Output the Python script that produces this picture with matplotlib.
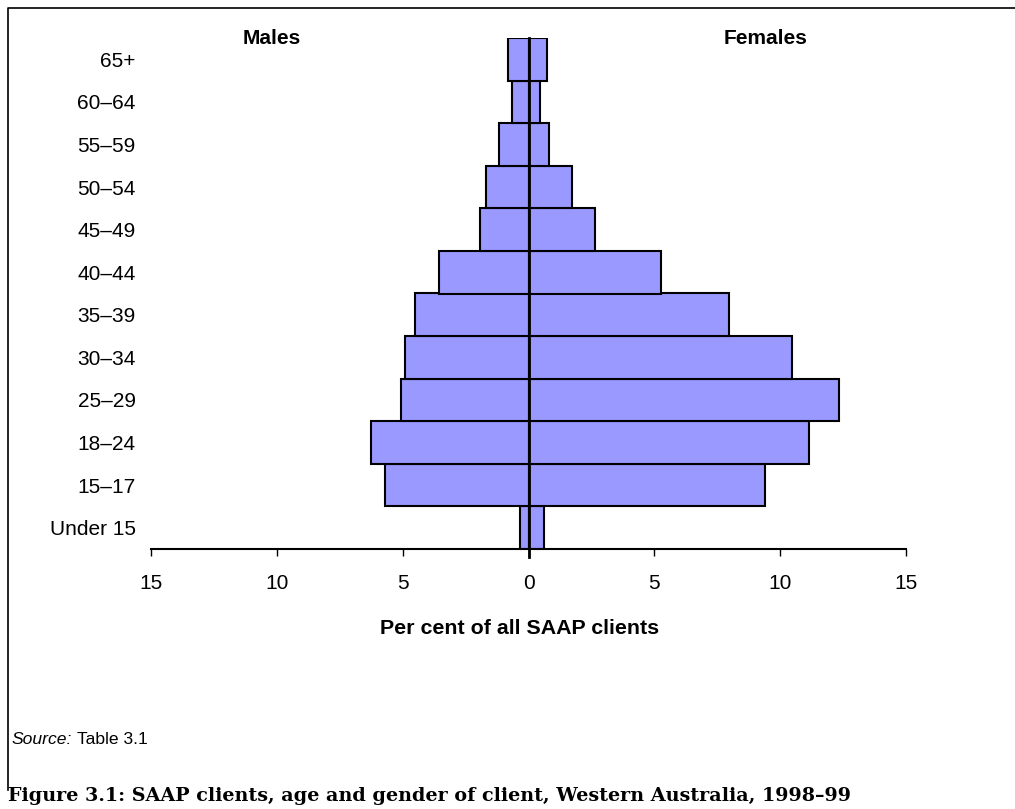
import matplotlib
matplotlib.use("Agg")
import matplotlib.pyplot as plt
from matplotlib.lines import Line2D
import numpy as np

plt.rcParams['font.family'] = ['Liberation Sans', 'DejaVu Sans']

# age groups, bottom to top
ages = ['Under 15', '15–17', '18–24', '25–29', '30–34', '35–39',
        '40–44', '45–49', '50–54', '55–59', '60–64', '65+']
males = [0.32, 5.71, 6.27, 5.08, 4.92, 4.52, 3.57, 1.94, 1.67, 1.19, 0.67, 0.83]
females = [0.63, 9.40, 11.15, 12.34, 10.48, 7.98, 5.28, 2.66, 1.71, 0.83, 0.44, 0.75]
xticks = [-15, -10, -5, 0, 5, 10, 15]
xticklabels = ['15', '10', '5', '0', '5', '10', '15']

W, H = 1015, 809
fig = plt.figure(figsize=(W / 100, H / 100), dpi=100)
ax = fig.add_axes([151 / W, 1 - 549 / H, (906 - 151) / W, (549 - 38) / H])

y = np.arange(len(ages))
bar_kw = dict(height=1.0, color='#9999ff', edgecolor='black', linewidth=1.5)
ax.barh(y, -np.array(males), **bar_kw)
ax.barh(y, females, **bar_kw)

# centre line between the two halves
ax.plot([0, 0], [-0.68, len(ages) - 0.5], color='black', lw=2, clip_on=False, zorder=5)

ax.set_xlim(-15, 15)
ax.set_ylim(-0.5, len(ages) - 0.5)
ax.set_yticks(y)
ax.set_yticklabels(ages, fontsize=15)
ax.tick_params(axis='y', length=0, pad=11)
ax.set_xticks(xticks)
ax.set_xticklabels(xticklabels, fontsize=15)
ax.tick_params(axis='x', direction='out', length=5, width=1, pad=13)
for s in ['top', 'right', 'left']:
    ax.spines[s].set_visible(False)
ax.spines['bottom'].set_linewidth(1.5)

fig.text(520 / W, 1 - 628 / H, 'Per cent of all SAAP clients', ha='center', va='center',
         fontsize=15.4, fontweight='bold')
fig.text(272 / W, 1 - 38 / H, 'Males', ha='center', va='center', fontsize=15, fontweight='bold')
fig.text(766 / W, 1 - 38 / H, 'Females', ha='center', va='center', fontsize=15, fontweight='bold')

# frame on the top and left
fig.add_artist(Line2D([8 / W, 8 / W, 1.0], [1 - 790 / H, 1 - 8 / H, 1 - 8 / H],
                      color='black', lw=1.2, transform=fig.transFigure))

src = fig.text(12 / W, 1 - 739 / H, 'Source:', ha='left', va='center', fontsize=12.6, style='italic')
ax.annotate('Table 3.1', xy=(1, 0.5), xycoords=src, xytext=(3, 0), textcoords='offset points',
            ha='left', va='center', fontsize=12.6, annotation_clip=False)

fig.text(8 / W, 1 - 796 / H,
         'Figure 3.1: SAAP clients, age and gender of client, Western Australia, 1998–99',
         ha='left', va='center', fontsize=13.8, fontweight='bold',
         family=['DejaVu Serif'])

fig.savefig('out.png', dpi=100)
